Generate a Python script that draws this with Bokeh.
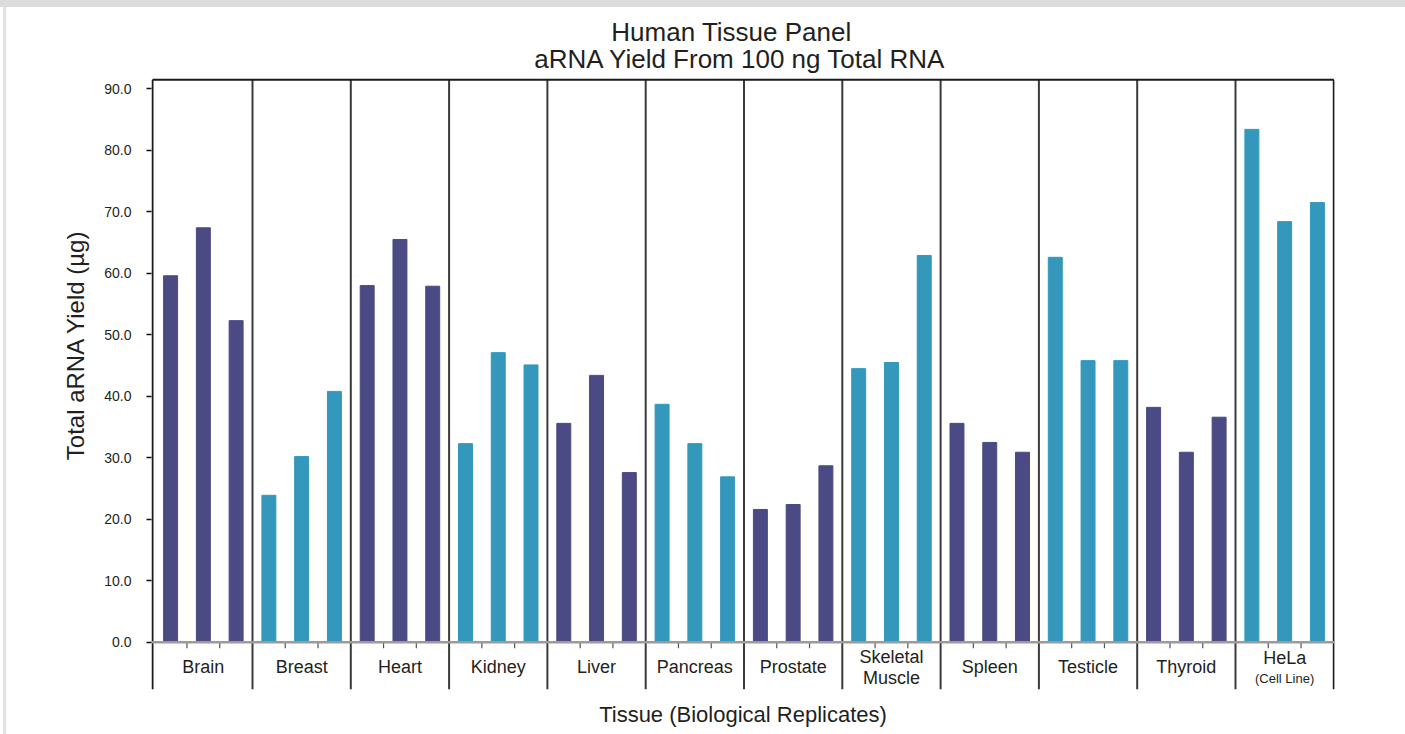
from bokeh.plotting import figure
from bokeh.models import (Range1d, FixedTicker, LinearAxis, ColumnDataSource,
                          PrintfTickFormatter, Span)
from bokeh.core.properties import value
from bokeh.embed import file_html
from bokeh.resources import INLINE

# ---------------- data ----------------
tissues = ["Brain", "Breast", "Heart", "Kidney", "Liver", "Pancreas", "Prostate",
           "Skeletal Muscle", "Spleen", "Testicle", "Thyroid", "HeLa"]
tissue_notes = ["", "", "", "", "", "", "", "", "", "", "", "(Cell Line)"]
rep1 = [59.6, 23.9, 58.0, 32.3, 35.6, 38.7, 21.6, 44.5, 35.6, 62.6, 38.2, 83.4]
rep2 = [67.4, 30.2, 65.5, 47.1, 43.4, 32.3, 22.4, 45.5, 32.5, 45.8, 30.9, 68.4]
rep3 = [52.3, 40.8, 57.9, 45.1, 27.6, 26.9, 28.7, 62.9, 30.9, 45.8, 36.6, 71.5]
y_ticks = [0, 10, 20, 30, 40, 50, 60, 70, 80, 90]

title_lines = ["Human Tissue Panel", "aRNA Yield From 100 ng Total RNA"]
y_title = "Total aRNA Yield (\u00b5g)"
x_title = "Tissue (Biological Replicates)"

PURPLE = "#4b4a84"
TEAL = "#3398bb"
TXT = "#231f20"
FONT = "Liberation Sans"

# ---------------- geometry (pixels) ----------------
n = len(tissues)
W, H = 1405, 734
FL, FR, FB = 151, 1334, 689       # frame left / right / bottom (frame top = 0)
X0, GW = 153.7, 98.3              # pixel of first group start, group width
ZERO = 641.8                      # pixel row of the value 0
PX = 6.15                         # pixels per value unit
BOX_TOP = 79.3                    # pixel row of the plot box top border
LEFT_BORDER = 152.0

def xd(px):
    return (px - X0) / GW

def yd(py):
    return (ZERO - py) / PX

p = figure(width=W, height=H, output_backend="svg", toolbar_location=None,
           x_range=Range1d(xd(FL), xd(FR)), y_range=Range1d(yd(FB), yd(0)),
           x_axis_type=None, y_axis_type=None,
           min_border_left=FL, min_border_right=W - FR,
           min_border_top=0, min_border_bottom=H - FB)
p.outline_line_color = None
p.background_fill_color = None
p.border_fill_color = None

TOP = yd(BOX_TOP)
BOT = yd(FB)

# group separators, running down through the label band
sep = list(range(1, n))
p.segment(x0=sep, y0=[BOT] * len(sep), x1=sep, y1=[TOP] * len(sep),
          line_color="#3a3a3a", line_width=2)
# box: left, right, top
p.segment(x0=[xd(LEFT_BORDER), n, xd(LEFT_BORDER)], y0=[BOT, BOT, TOP],
          x1=[xd(LEFT_BORDER), n, n], y1=[TOP, TOP, TOP],
          line_color="#1a1a1a", line_width=2)

# bars
xs, tops, cols = [], [], []
for g in range(n):
    col = PURPLE if g % 2 == 0 else TEAL
    for j, rep in enumerate((rep1, rep2, rep3)):
        xs.append(g + (j + 0.5) / 3)
        tops.append(rep[g])
        cols.append(col)
src = ColumnDataSource(dict(x=xs, top=tops, color=cols))
p.vbar(x="x", top="top", bottom=0, width=0.142, color="color", source=src)

# small ticks between replicates, below the zero line
tick_x = [g + k / 3 for g in range(n) for k in (1, 2)]
p.segment(x0=tick_x, y0=[0] * len(tick_x), x1=tick_x,
          y1=[-6 / PX] * len(tick_x), line_color="#555555", line_width=1.2)

# zero line
p.add_layout(Span(location=0, dimension="width", line_color="#9b9b9b",
                  line_width=2.5))

# tissue labels in the band under the zero line
lx, ly, lt = [], [], []
for g, (name, note) in enumerate(zip(tissues, tissue_notes)):
    cx = g + 0.5
    if note:
        lx.append(cx); ly.append(yd(ZERO + 15.5)); lt.append(name)
    elif " " in name:
        a, b = name.split(" ", 1)
        lx += [cx, cx]; ly += [yd(ZERO + 14.5), yd(ZERO + 35.5)]; lt += [a, b]
    else:
        lx.append(cx); ly.append(yd(ZERO + 24.5)); lt.append(name)
p.text(x="x", y="y", text="t", source=ColumnDataSource(dict(x=lx, y=ly, t=lt)),
       text_font=value(FONT), text_font_size=value("18px"),
       text_align="center", text_baseline="middle", text_color=TXT)

sx, sy, st = [], [], []
for g, note in enumerate(tissue_notes):
    if note:
        sx.append(g + 0.5); sy.append(yd(ZERO + 36)); st.append(note)
p.text(x="x", y="y", text="t", source=ColumnDataSource(dict(x=sx, y=sy, t=st)),
       text_font=value(FONT), text_font_size=value("13px"),
       text_align="center", text_baseline="middle", text_color=TXT)

# two-line chart title (centres in pixels)
title_cx = [731, 740]
title_cy = [31, 58]
p.text(x=[xd(c) for c in title_cx], y=[yd(c) for c in title_cy], text=title_lines,
       text_font=value(FONT), text_font_size=value("26px"),
       text_align="center", text_baseline="middle", text_color=TXT)

# left axis (ticks and labels; its line is the box segment)
ya = LinearAxis(ticker=FixedTicker(ticks=y_ticks),
                formatter=PrintfTickFormatter(format="%.1f"))
ya.axis_line_color = None
ya.major_tick_out = 5
ya.major_tick_in = 0
ya.major_tick_line_color = "#111111"
ya.major_tick_line_width = 1.5
ya.minor_tick_out = 0
ya.minor_tick_in = 0
ya.major_label_text_font = FONT
ya.major_label_text_font_size = "14px"
ya.major_label_text_color = TXT
ya.major_label_standoff = 15
ya.axis_label = y_title
ya.axis_label_text_font = FONT
ya.axis_label_text_font_size = "24px"
ya.axis_label_text_font_style = "normal"
ya.axis_label_text_color = TXT
ya.axis_label_standoff = 12
p.add_layout(ya, "left")

# bottom: only the axis title
xa = LinearAxis(ticker=FixedTicker(ticks=[]))
xa.axis_line_color = None
xa.major_tick_out = 0
xa.major_tick_in = 0
xa.minor_tick_out = 0
xa.minor_tick_in = 0
xa.major_label_text_font_size = "0px"
xa.axis_label = x_title
xa.axis_label_text_font = FONT
xa.axis_label_text_font_size = "22px"
xa.axis_label_text_font_style = "normal"
xa.axis_label_text_color = TXT
xa.axis_label_standoff = 12
p.add_layout(xa, "below")

html = file_html(p, INLINE)
page_style = ("<style>body{background:"
              "linear-gradient(#dcdcdc,#dcdcdc) 0 0/100% 7px no-repeat,"
              "linear-gradient(#e2e2e2,#e2e2e2) 3px 0/3px 100% no-repeat,"
              "#ffffff;}</style>")
html = html.replace("</head>", page_style + "</head>", 1)
open("out.html", "w").write(html)
